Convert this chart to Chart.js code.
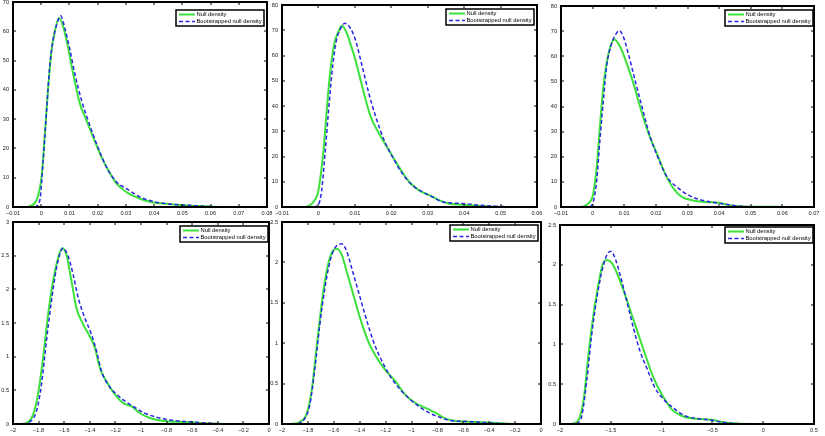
<!DOCTYPE html>
<html>
<head>
<meta charset="utf-8">
<script src="https://cdn.jsdelivr.net/npm/chart.js@4.4.1/dist/chart.umd.min.js"></script>
<style>
  html, body { margin: 0; padding: 0; background: #fff; width: 825px; height: 436px; overflow: hidden; position: relative; }
  canvas { position: absolute; }
</style>
</head>
<body>
<script>
// ---- data ----
// top-left
const p1NullX = [-0.0047, -0.0017, 0.0001, 0.0013, 0.0024, 0.0036, 0.0048, 0.0063, 0.0078, 0.0095, 0.0113, 0.0137, 0.016, 0.0184, 0.0208, 0.0231, 0.0267, 0.0302, 0.035, 0.0397, 0.0445, 0.0492, 0.0563, 0.0611, 0.07];
const p1NullY = [0, 2.3, 10, 25, 40, 53, 60, 64.5, 61.5, 54.6, 45.5, 35.3, 29.6, 23.9, 18.2, 13.7, 8, 5.1, 2.8, 1.5, 1.1, 0.7, 0.35, 0.1, 0];
const p1BootX = [-0.0023, -0.0005, 0.0007, 0.0019, 0.003, 0.0042, 0.0056, 0.0069, 0.0084, 0.0101, 0.0119, 0.0143, 0.0166, 0.0196, 0.0231, 0.0267, 0.0302, 0.035, 0.0397, 0.0445, 0.0516, 0.0587, 0.0658];
const p1BootY = [0, 2.3, 16, 33, 47.8, 57, 62.6, 65.3, 60.9, 54, 45.5, 36.4, 29.6, 21.6, 13.7, 8.5, 6.3, 3.4, 1.9, 1.1, 0.6, 0.2, 0];
// top-middle
const p2NullX = [-0.0033, -0.0014, 0, 0.0014, 0.0023, 0.0032, 0.0044, 0.0055, 0.0064, 0.0075, 0.0087, 0.0101, 0.012, 0.0143, 0.0166, 0.0193, 0.0221, 0.0249, 0.0276, 0.0304, 0.0331, 0.0359, 0.0396, 0.0433, 0.0479, 0.0525];
const p2NullY = [0, 2, 6.6, 22.6, 38.5, 53, 65, 69.5, 71.8, 69.8, 65, 58.5, 47.8, 35.9, 29.2, 22.6, 15.9, 10, 6.6, 4.7, 2.7, 1.3, 0.9, 0.5, 0.1, 0];
const p2BootX = [-0.0014, 0, 0.0009, 0.0018, 0.0028, 0.0037, 0.0048, 0.006, 0.0073, 0.0087, 0.0101, 0.012, 0.0138, 0.0157, 0.018, 0.0203, 0.023, 0.0258, 0.0285, 0.0313, 0.0341, 0.0378, 0.0405, 0.0442, 0.0488, 0.0543];
const p2BootY = [0, 1, 6.6, 21, 38.5, 53, 65, 70.4, 72.8, 71, 66.4, 55.8, 45.2, 35.9, 26.6, 19.9, 13.3, 8.6, 6, 4, 2, 1.5, 1.3, 0.7, 0.3, 0];
// top-right
const p3NullX = [-0.0035, -0.0014, 0.0002, 0.0013, 0.0023, 0.0034, 0.005, 0.0069, 0.0087, 0.0108, 0.0129, 0.015, 0.0177, 0.0203, 0.0229, 0.0256, 0.0282, 0.0314, 0.0356, 0.0399, 0.0425, 0.0462, 0.0525, 0.0589, 0.061];
const p3NullY = [0, 1.3, 5.3, 16, 31.9, 47.8, 61, 66.7, 63.8, 57.1, 49.2, 39.9, 29.2, 21.3, 13.3, 7.3, 4, 2.7, 2, 1.7, 0.9, 0.3, 0.1, 0.1, 0];
const p3BootX = [-0.0008, 0.0002, 0.0013, 0.0023, 0.0034, 0.0044, 0.006, 0.0076, 0.0084, 0.0097, 0.0113, 0.0134, 0.0156, 0.0182, 0.0208, 0.0235, 0.0266, 0.0303, 0.0346, 0.0388, 0.042, 0.0452, 0.0504, 0.0589];
const p3BootY = [0, 2, 10.6, 26.6, 42.5, 55.8, 65, 69.3, 70.2, 67.8, 61, 50.5, 39.9, 27.9, 19.3, 12, 8, 4.7, 2.7, 1.7, 1.1, 0.5, 0.1, 0];
// bottom-left
const p4NullX = [-1.948, -1.896, -1.843, -1.805, -1.765, -1.726, -1.687, -1.647, -1.616, -1.582, -1.543, -1.504, -1.452, -1.4, -1.36, -1.321, -1.269, -1.204, -1.138, -1.073, -1.008, -0.93, -0.8, -0.668, -0.538, -0.407, -0.277];
const p4NullY = [0, 0.015, 0.14, 0.44, 0.98, 1.62, 2.12, 2.47, 2.61, 2.51, 2.12, 1.72, 1.48, 1.3, 1.13, 0.83, 0.63, 0.44, 0.31, 0.26, 0.16, 0.09, 0.04, 0.03, 0.015, 0.005, 0];
const p4BootX = [-1.922, -1.87, -1.817, -1.778, -1.739, -1.7, -1.66, -1.621, -1.608, -1.569, -1.53, -1.49, -1.438, -1.387, -1.347, -1.308, -1.256, -1.191, -1.125, -1.06, -0.982, -0.877, -0.773, -0.642, -0.486, -0.329];
const p4BootY = [0, 0.03, 0.19, 0.58, 1.23, 1.82, 2.32, 2.59, 2.61, 2.49, 2.22, 1.87, 1.57, 1.33, 1.08, 0.78, 0.58, 0.44, 0.34, 0.26, 0.17, 0.1, 0.06, 0.035, 0.015, 0];
// bottom-middle
const p5NullX = [-1.928, -1.863, -1.811, -1.772, -1.733, -1.694, -1.655, -1.616, -1.578, -1.54, -1.501, -1.449, -1.397, -1.333, -1.268, -1.203, -1.125, -1.047, -0.97, -0.892, -0.815, -0.737, -0.634, -0.505, -0.375, -0.246, -0.142];
const p5NullY = [0, 0.025, 0.12, 0.4, 0.94, 1.48, 1.89, 2.12, 2.17, 2.1, 1.89, 1.6, 1.31, 1.02, 0.82, 0.67, 0.53, 0.36, 0.26, 0.2, 0.14, 0.066, 0.033, 0.025, 0.016, 0.004, 0];
const p5BootX = [-1.876, -1.824, -1.785, -1.746, -1.708, -1.669, -1.63, -1.591, -1.54, -1.501, -1.462, -1.41, -1.358, -1.294, -1.229, -1.164, -1.1, -1.022, -0.944, -0.867, -0.776, -0.685, -0.595, -0.505, -0.375, -0.246];
const p5BootY = [0, 0.07, 0.24, 0.69, 1.23, 1.68, 2.01, 2.18, 2.23, 2.14, 1.93, 1.64, 1.35, 1.02, 0.78, 0.59, 0.45, 0.32, 0.22, 0.14, 0.08, 0.04, 0.033, 0.025, 0.012, 0];
// bottom-right
const p6NullX = [-1.885, -1.819, -1.77, -1.72, -1.671, -1.622, -1.582, -1.533, -1.49, -1.424, -1.359, -1.293, -1.227, -1.161, -1.079, -0.997, -0.898, -0.799, -0.668, -0.503, -0.405, -0.306, -0.109, 0.155];
const p6NullY = [0, 0.05, 0.28, 0.87, 1.37, 1.75, 2.0, 2.06, 2.02, 1.85, 1.62, 1.37, 1.12, 0.87, 0.58, 0.37, 0.18, 0.1, 0.067, 0.054, 0.025, 0.008, 0, 0];
const p6BootX = [-1.836, -1.786, -1.737, -1.688, -1.638, -1.589, -1.54, -1.5, -1.457, -1.408, -1.342, -1.276, -1.211, -1.145, -1.063, -0.98, -0.882, -0.766, -0.635, -0.503, -0.372, -0.24, 0.155];
const p6BootY = [0, 0.1, 0.54, 1.12, 1.58, 1.91, 2.12, 2.17, 2.08, 1.87, 1.54, 1.2, 0.91, 0.7, 0.45, 0.31, 0.2, 0.1, 0.067, 0.046, 0.017, 0.004, 0];

// tick values
const xTicksA = [-0.01, 0, 0.01, 0.02, 0.03, 0.04, 0.05, 0.06, 0.07, 0.08];
const xTicksB = [-0.01, 0, 0.01, 0.02, 0.03, 0.04, 0.05, 0.06];
const xTicksC = [-0.01, 0, 0.01, 0.02, 0.03, 0.04, 0.05, 0.06, 0.07];
const xTicksD = [-2, -1.8, -1.6, -1.4, -1.2, -1, -0.8, -0.6, -0.4, -0.2, 0];
const xTicksE = [-2, -1.5, -1, -0.5, 0, 0.5];
const yTicks70 = [0, 10, 20, 30, 40, 50, 60, 70];
const yTicks80 = [0, 10, 20, 30, 40, 50, 60, 70, 80];
const yTicks3 = [0, 0.5, 1, 1.5, 2, 2.5, 3];
const yTicks25 = [0, 0.5, 1, 1.5, 2, 2.5];

const seriesLabels = ['Null density', 'Bootstrapped null density'];

// ---- look ----
const GREEN = 'rgb(60, 225, 60)';
const BLUE = 'rgb(40, 40, 225)';
const M = 20; // room around each plot box for tick labels
const tickFont = { family: '"Liberation Sans", Arial, sans-serif', size: 5.6 };
const legendFont = '5.8px "Liberation Sans", Arial, sans-serif';

const fmt = v => String(Number(v.toFixed(4))).replace('-', '\u2212');
const zip = (xs, ys) => xs.map((x, i) => ({ x: x, y: ys[i] }));

// box around the axes, inward ticks on all four sides, and a boxed legend
const framePlugin = {
    id: 'frame',
    afterDraw(chart, args, opts) {
        const { ctx, chartArea: a, scales } = chart;
        const tl = 3;
        ctx.save();
        ctx.setLineDash([]);
        ctx.fillStyle = '#000';
        // frame edges as solid bars
        ctx.fillRect(a.left - 1, a.top - 1, a.right - a.left + 2, 2);
        ctx.fillRect(a.left - 1, a.bottom - 1, a.right - a.left + 2, 2);
        ctx.fillRect(a.left - 1, a.top - 1, 2, a.bottom - a.top + 2);
        ctx.fillRect(a.right - 1, a.top - 1, 2, a.bottom - a.top + 2);
        // inward ticks
        scales.x.ticks.forEach(t => {
            const px = Math.round(scales.x.getPixelForValue(t.value));
            ctx.fillRect(px - 0.5, a.bottom - tl, 1, tl);
            ctx.fillRect(px - 0.5, a.top, 1, tl);
        });
        scales.y.ticks.forEach(t => {
            const py = Math.round(scales.y.getPixelForValue(t.value));
            ctx.fillRect(a.left, py - 0.5, tl, 1);
            ctx.fillRect(a.right - tl, py - 0.5, tl, 1);
        });

        // legend
        ctx.font = legendFont;
        const sets = chart.data.datasets;
        const textW = Math.max(...sets.map(d => ctx.measureText(d.label).width));
        const bw = Math.round(20 + textW + 3), bh = 16;
        const bx = Math.round(a.right - opts.gap[0] - bw), by = Math.round(a.top + opts.gap[1]);
        ctx.fillStyle = '#fff';
        ctx.fillRect(bx, by, bw, bh);
        ctx.lineWidth = 1.5;
        ctx.strokeStyle = '#000';
        ctx.strokeRect(bx, by, bw, bh);
        sets.forEach((d, i) => {
            const cy = by + 4.5 + i * 7;
            ctx.beginPath();
            ctx.strokeStyle = d.borderColor;
            ctx.lineWidth = d.borderWidth;
            ctx.setLineDash(d.borderDash || []);
            ctx.moveTo(bx + 3, cy); ctx.lineTo(bx + 19, cy);
            ctx.stroke();
            ctx.setLineDash([]);
            ctx.fillStyle = '#000';
            ctx.textBaseline = 'middle';
            ctx.fillText(d.label, bx + 20.5, cy);
        });
        ctx.restore();
    }
};

const panels = [
    { box: [13, 2, 267, 207], gap: [3.5, 8], x: [-0.01, 0.08], y: [0, 70], xt: xTicksA, yt: yTicks70, n: [p1NullX, p1NullY], b: [p1BootX, p1BootY] },
    { box: [282, 5, 537, 207], gap: [3.5, 4], x: [-0.01, 0.06], y: [0, 80], xt: xTicksB, yt: yTicks80, n: [p2NullX, p2NullY], b: [p2BootX, p2BootY] },
    { box: [561, 6, 814, 207], gap: [1.5, 3.5], x: [-0.01, 0.07], y: [0, 80], xt: xTicksC, yt: yTicks80, n: [p3NullX, p3NullY], b: [p3BootX, p3BootY] },
    { box: [13, 222, 269, 424], gap: [1.5, 3.5], x: [-2, 0], y: [0, 3], xt: xTicksD, yt: yTicks3, n: [p4NullX, p4NullY], b: [p4BootX, p4BootY] },
    { box: [282, 222, 541, 424], gap: [3.5, 3], x: [-2, 0], y: [0, 2.5], xt: xTicksD, yt: yTicks25, n: [p5NullX, p5NullY], b: [p5BootX, p5BootY] },
    { box: [560, 225, 814, 424], gap: [1.5, 2], x: [-2, 0.5], y: [0, 2.5], xt: xTicksE, yt: yTicks25, n: [p6NullX, p6NullY], b: [p6BootX, p6BootY] }
];

const axisOpts = (range, ticks, isX) => ({
    type: 'linear',
    min: range[0],
    max: range[1],
    afterBuildTicks: s => { s.ticks = ticks.map(v => ({ value: v })); },
    afterFit: s => { if (isX) s.height = M; else s.width = M; },
    grid: { display: false, drawTicks: false },
    border: { display: false },
    ticks: { font: tickFont, color: '#222', padding: isX ? 3 : 4, autoSkip: false, maxRotation: 0, callback: fmt }
});

const createPanel = p => {
    const [L, T, R, B] = p.box;
    const w = R - L + 2 * M, h = B - T + 2 * M;
    const cv = document.createElement('canvas');
    cv.width = w; cv.height = h;
    cv.style.left = (L - M) + 'px';
    cv.style.top = (T - M) + 'px';
    cv.style.width = w + 'px';
    cv.style.height = h + 'px';
    document.body.appendChild(cv);

    return new Chart(cv, {
        type: 'line',
        data: {
            datasets: [
                { label: seriesLabels[0], data: zip(p.n[0], p.n[1]), borderColor: GREEN, borderWidth: 2, order: 1 },
                { label: seriesLabels[1], data: zip(p.b[0], p.b[1]), borderColor: BLUE, borderWidth: 1.5, borderDash: [4, 2.5], order: 0 }
            ]
        },
        options: {
            responsive: false,
            animation: false,
            devicePixelRatio: 1,
            layout: { padding: { top: M, right: M, left: 0, bottom: 0 } },
            elements: { point: { radius: 0 }, line: { cubicInterpolationMode: 'monotone', fill: false } },
            plugins: { legend: { display: false }, tooltip: { enabled: false }, frame: { gap: p.gap } },
            scales: { x: axisOpts(p.x, p.xt, true), y: axisOpts(p.y, p.yt, false) }
        },
        plugins: [framePlugin]
    });
};

panels.forEach(createPanel);
</script>
</body>
</html>
